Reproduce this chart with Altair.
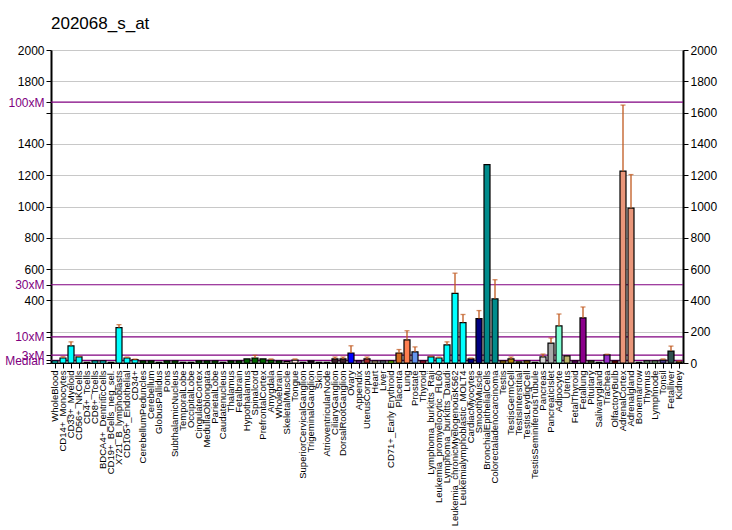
import altair as alt
import pandas as pd

title = "202068_s_at"

samples = [
    "WholeBlood", "CD14+_Monocytes", "CD33+_Myeloid", "CD56+_NKCells", "CD4+_Tcells",
    "CD8+_Tcells", "BDCA4+_DentriticCells", "CD19+_BCells_neg_sel.", "X721_B_lymphoblasts",
    "CD105+_Endothelial", "CD34+", "CerebellumPeduncles", "Cerebellum", "GlobusPallidus",
    "Pons", "SubthalamicNucleus", "TemporalLobe", "OccipitalLobe", "CingulateCortex",
    "MedullaOblongata", "ParietalLobe", "Caudatenucleus", "Thalamus", "Fetalbrain",
    "Hypothalamus", "Spinalcord", "PrefrontalCortex", "Amygdala", "Wholebrain",
    "SkeletalMuscle", "Tongue", "SuperiorCervicalGanglion", "TrigeminalGanglion", "Skin",
    "AtrioventricularNode", "CiliaryGanglion", "DorsalRootGanglion", "Ovary", "Appendix",
    "UterusCorpus", "Heart", "Liver", "CD71+_Early Erythroid", "Placenta", "Lung",
    "Prostate", "Thyroid", "Lymphoma_burkitts_Raji", "Leukemia_promyelocytic_HL60",
    "Lymphoma_burkitts_Daudi", "Leukemia_chronicMyelogenousK562",
    "Leukemialymphoblastic_MOLT4", "CardiacMyocytes", "SmoothMuscle",
    "BronchialEpithelialCells", "Colorectaladenocarcinoma", "Testis", "TestisGermCell",
    "TestisInterstitial", "TestisLeydigCell", "TestisSeminiferousTubule", "Pancreas",
    "PancreaticIslet", "Adipocyte", "Uterus", "FetalThyroid", "Fetallung", "Pituitary",
    "Salivarygland", "Trachea", "OlfactoryBulb", "AdrenalCortex", "Adrenalgland",
    "Bonemarrow", "Thymus", "Lymphnode", "Tonsil", "Fetalliver", "Kidney",
]

values = [
    13, 32, 110, 39, 5, 13, 13, 5, 226, 32, 21,
    13, 13, 5, 13, 13, 5, 5, 13, 13, 13, 5, 13, 13, 26, 32, 26, 19, 13,
    10, 19, 5, 13, 5, 5, 26, 26, 64, 13, 26, 13, 13, 13, 64, 148, 71, 13,
    39, 32, 116, 445, 258, 26, 284, 1268, 410,
    13, 26, 8, 13, 5, 39, 127, 237, 45, 13, 288, 13, 5, 52, 13, 1226, 989,
    5, 13, 13, 19, 76, 8,
]

upper = [
    0, 40, 135, 42, 0, 0, 0, 0, 245, 38, 25,
    0, 0, 0, 0, 0, 0, 0, 0, 0, 0, 0, 0, 0, 0, 49, 0, 26, 0,
    0, 26, 0, 0, 0, 0, 38, 38, 110, 0, 38, 0, 0, 0, 86, 206, 103, 0,
    43, 38, 135, 574, 310, 32, 335, 0, 532,
    0, 38, 0, 0, 0, 57, 160, 313, 0, 0, 358, 0, 0, 56, 0, 1648, 1204,
    0, 0, 0, 26, 108, 13,
]

colors = (
    ["#00FFFF"] * 11
    + ["#006400"] * 18
    + ["#FFE4C4", "#FFE4E1", "#1A1A1A", "#2B0F2B", "#1A1A1A", "#1A1A1A", "#3B1F2B", "#3B1F2B",
       "#0000FF", "#9932CC", "#A52A2A", "#D2B48C", "#708090", "#7CFC00", "#D2691E",
       "#FF7F50", "#6495ED", "#DC143C"]
    + ["#00FFFF"] * 5
    + ["#000080", "#000080", "#008B8B", "#008B8B"]
    + ["#B8860B", "#B8860B", "#8B6914", "#B8860B", "#8B6914"]
    + ["#D3D3D3", "#A9A9A9", "#7FFFD4", "#BDB76B", "#800080", "#8B008B", "#556B2F",
       "#2F2F2F", "#9932CC", "#8B0000", "#E9967A", "#E9967A", "#1A1A1A", "#8FBC8F",
       "#8FBC8F", "#483D8B", "#2F4F4F", "#8B4513"]
)

median = 16.67
multiples = [1, 3, 10, 30, 100]
multiple_labels = ["Median", "3xM", "10xM", "30xM", "100xM"]

df = pd.DataFrame({"sample": samples, "value": values, "upper": upper, "color": colors})
err_df = df[df["upper"] > 0]
lines_df = pd.DataFrame({"level": [median * m for m in multiples]})

FONT = "Liberation Sans"
order = samples

xenc = alt.X("sample:N", sort=order,
             scale=alt.Scale(paddingInner=0.25, paddingOuter=0.125),
             axis=alt.Axis(title=None, labelAngle=-90, labelFontSize=9.5, labelFont=FONT,
                           labelColor="black", tickColor="black", tickSize=5,
                           domainColor="black", domainWidth=1, labelPadding=2,
                           labelOverlap=False, labelLimit=200))

yscale = alt.Scale(domain=[0, 2000], nice=False)

tick_vals = [0, 200, 400, 600, 800, 1000, 1200, 1400, 1600, 1800, 2000]
hidden = [0, 200, 1600]
level_vals = [round(median * m, 2) for m in multiples]
left_vals = sorted(tick_vals + level_vals)
parts = []
for v, lab in zip(level_vals, multiple_labels):
    parts.append(f"abs(datum.value-{v})<0.3 ? '{lab}'")
for h in hidden:
    parts.append(f"abs(datum.value-{h})<0.3 ? ''")
label_expr = " : ".join(parts) + " : format(datum.value, 'd')"
lvl_test = " || ".join(f"abs(datum.value-{v})<0.3" for v in level_vals)

left_axis = alt.Axis(
    title=None, values=left_vals, labelExpr=label_expr, labelOverlap=False,
    labelFont=FONT, labelFontSize=12, grid=False, tickSize=5, tickColor="black",
    domainColor="black", domainWidth=2, labelPadding=2,
    labelColor={"condition": {"test": lvl_test, "value": "#800080"}, "value": "black"},
)

right_axis = alt.Axis(
    title=None, orient="right", values=tick_vals, format="d", labelFont=FONT,
    labelFontSize=12, grid=True, gridColor="#C8C8C8", gridWidth=1.2, tickSize=5,
    tickColor="black", domainColor="black", domainWidth=2, labelColor="black",
    labelPadding=2,
)

grid_layer = alt.Chart(df).mark_point(opacity=0).encode(
    x=xenc, y=alt.Y("value:Q", scale=yscale, axis=right_axis)
)

rules = alt.Chart(lines_df).mark_rule(color="#800080", strokeWidth=1.2).encode(
    y=alt.Y("level:Q", scale=yscale, axis=left_axis)
)

bars = alt.Chart(df).mark_bar(stroke="black", strokeWidth=1.2).encode(
    x=xenc,
    y=alt.Y("value:Q", scale=yscale, axis=None),
    color=alt.Color("color:N", scale=None, legend=None),
)

err_rule = alt.Chart(err_df).mark_rule(color="#C0581E", strokeWidth=1.3).encode(
    x=xenc, y=alt.Y("value:Q", scale=yscale, axis=None), y2="upper:Q"
)
err_cap = alt.Chart(err_df).mark_tick(color="#C0581E", thickness=1.3, size=5).encode(
    x=xenc, y=alt.Y("upper:Q", scale=yscale, axis=None)
)

chart = alt.layer(grid_layer, rules, bars, err_rule, err_cap).resolve_axis(
    y="independent"
).properties(
    width=632, height=313,
    title=alt.TitleParams(title, anchor="start", frame="group", font=FONT, fontSize=17,
                          fontWeight="normal", color="black", offset=11),
    padding={"left": 51, "top": 50, "right": 49, "bottom": 167},
    autosize=alt.AutoSizeParams(type="none"),
).configure_view(stroke=None).configure(background="white")

chart.save("out.html", embed_options={"renderer": "svg", "actions": False})
